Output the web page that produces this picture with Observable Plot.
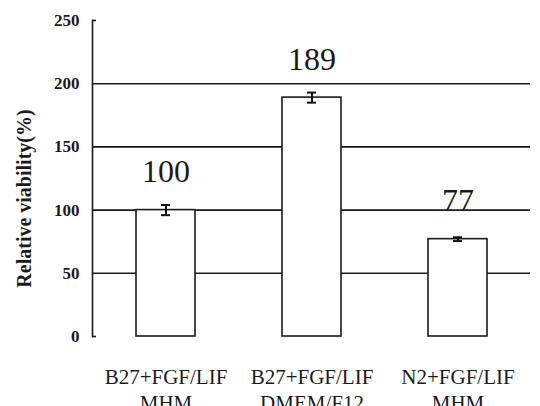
<!DOCTYPE html>
<html>
<head>
<meta charset="utf-8">
<script src="https://cdn.jsdelivr.net/npm/d3@7"></script>
<script src="https://cdn.jsdelivr.net/npm/@observablehq/plot@0.6"></script>
<style>
  html, body { margin: 0; padding: 0; background: #fff; }
  #chart { width: 540px; height: 406px; overflow: hidden; }
</style>
</head>
<body>
<div id="chart"></div>
<script>
const categories = ["B27+FGF/LIF\nMHM", "B27+FGF/LIF\nDMEM/F12", "N2+FGF/LIF\nMHM"];
const values = [100, 189, 77];
const errors = [4, 4, 1.5];
const yTicks = [0, 50, 100, 150, 200, 250];
const gridTicks = [50, 100, 150, 200];
const capTicks = [0, 250];
const yLabel = "Relative viability(%)";

const data = categories.map((c, i) => ({cat: c, v: values[i], e: errors[i]}));
const ink = "#1a1a1a";
const serif = "Liberation Serif";

const chart = Plot.plot({
  width: 540,
  height: 406,
  marginLeft: 92,
  marginRight: 10,
  marginTop: 20,
  marginBottom: 70,
  style: {background: "#fff", color: ink, fontFamily: serif},
  x: {domain: categories, paddingInner: 0.596, paddingOuter: 0.298},
  y: {domain: [0, 250]},
  marks: [
    Plot.ruleY(gridTicks, {stroke: ink, strokeWidth: 1.6}),
    Plot.frame({anchor: "left", stroke: ink, strokeWidth: 1.6}),
    Plot.ruleY(capTicks, {stroke: ink, strokeWidth: 1.6, insetRight: 434}),
    Plot.barY(data, {x: "cat", y: "v", fill: "#fff", stroke: ink, strokeWidth: 1.6}),
    Plot.ruleX(data, {x: "cat", y1: d => d.v - d.e, y2: d => d.v + d.e, stroke: "#111", strokeWidth: 2}),
    Plot.tickY(data, {x: "cat", y: d => d.v + d.e, insetLeft: 25, insetRight: 25, stroke: "#111", strokeWidth: 2}),
    Plot.tickY(data, {x: "cat", y: d => d.v - d.e, insetLeft: 25, insetRight: 25, stroke: "#111", strokeWidth: 2}),
    Plot.text(data, {x: "cat", y: "v", text: d => String(d.v), dy: -38, fontSize: 32, fontFamily: serif, fill: ink}),
    Plot.axisY({ticks: yTicks, tickSize: 0, tickPadding: 13, fontSize: 17, fontWeight: "bold", fontFamily: serif, label: null}),
    Plot.axisX({tickSize: 0, tickPadding: 30, fontSize: 21, lineHeight: 1.2, fontFamily: serif, label: null}),
    Plot.text([yLabel], {frameAnchor: "left", text: d => d, rotate: -90, textAnchor: "middle", lineAnchor: "middle",
      dx: -68, dy: 20, fontSize: 20, fontWeight: "bold", fontFamily: serif, fill: ink})
  ]
});
document.getElementById("chart").appendChild(chart);
</script>
</body>
</html>
